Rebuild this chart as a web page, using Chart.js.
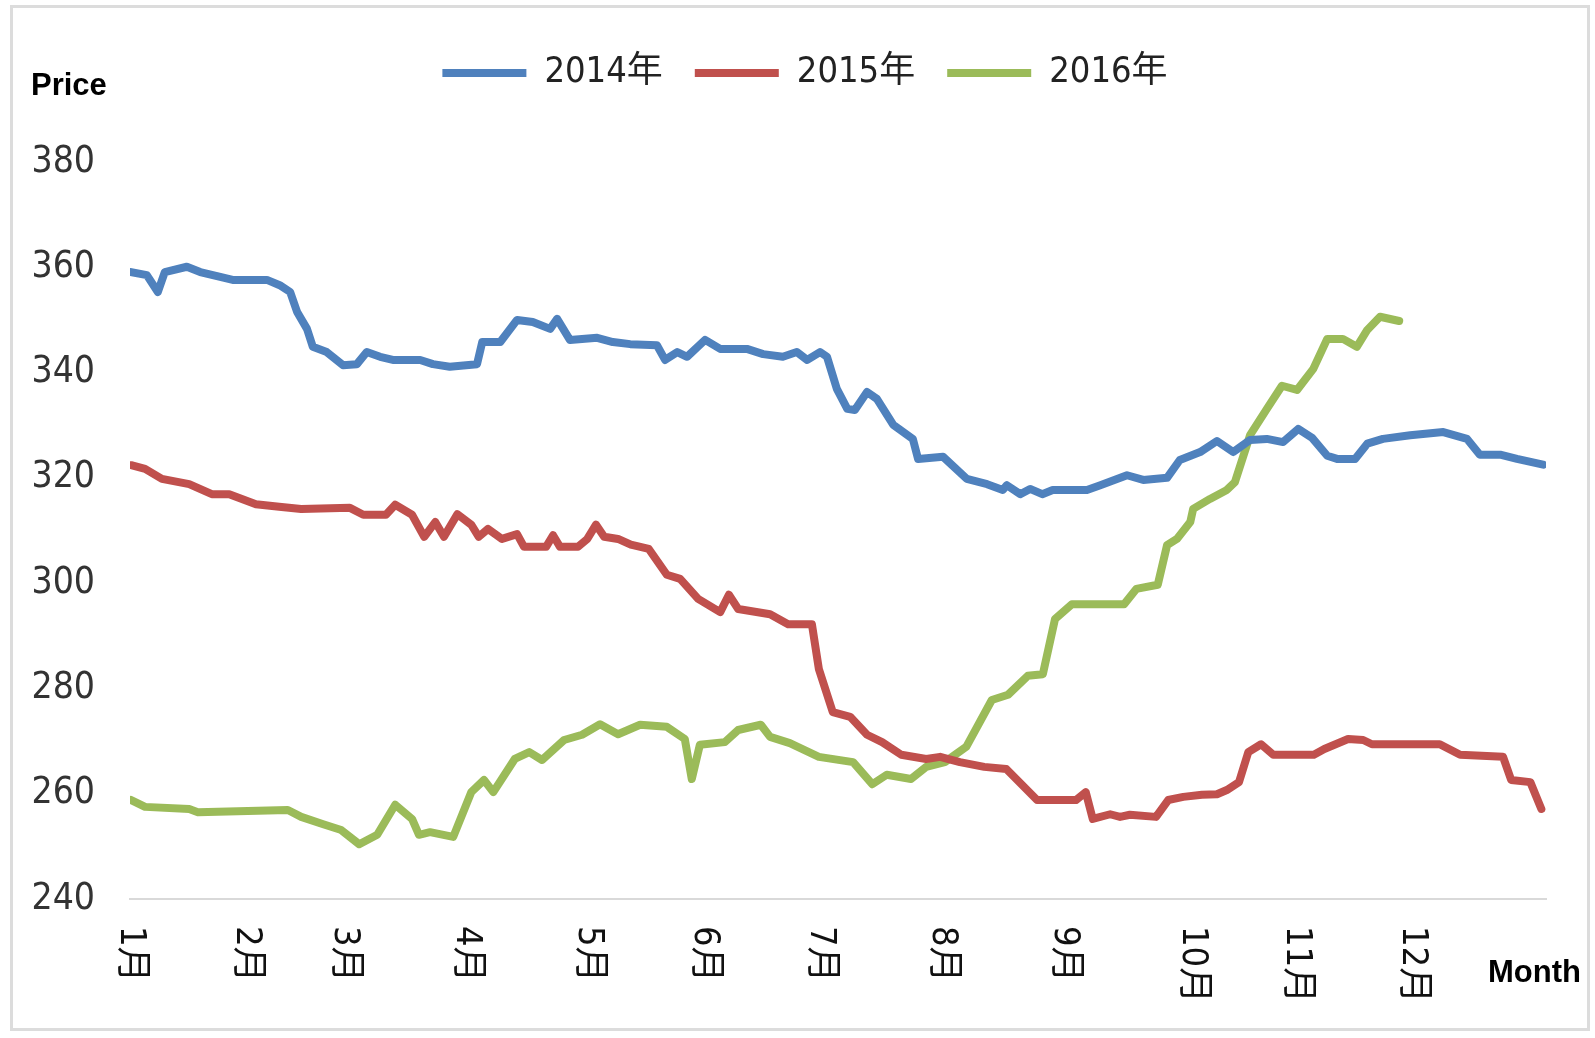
<!DOCTYPE html>
<html>
<head>
<meta charset="utf-8">
<title>Price by month 2014-2016</title>
<script src="https://cdn.jsdelivr.net/npm/chart.js@4.4.1/dist/chart.umd.min.js"></script>
<style>
    html, body { margin: 0; padding: 0; background: #fff; }
    #wrap { position: relative; width: 1595px; height: 1038px; }
    #frame {
        position: absolute; left: 10px; top: 5px; right: 5px; bottom: 7px;
        border: 3px solid #dcdcdc; pointer-events: none;
    }
    canvas { position: absolute; left: 0; top: 0; }
</style>
</head>
<body>
<div id="wrap">
    <canvas id="priceChart" width="1595" height="1038"></canvas>
    <div id="frame"></div>
</div>
<script>
// x = trading-day index within the year, y = price
const series2014 = [[0,359.1],[2.9,358.5],[4.8,355.3],[6,359.1],[9.8,360.1],[12.1,359.1],[15,358.3],[17.7,357.6],[23.6,357.6],[25.8,356.6],[27.6,355.3],[28.8,351.5],[30.5,348.3],[31.5,344.9],[33.9,343.9],[36.7,341.4],[39.1,341.6],[40.8,343.9],[43.1,343],[45.3,342.4],[50,342.4],[52.2,341.6],[55.1,341.1],[59.8,341.6],[60.7,345.8],[63.8,345.8],[66.7,350],[69.4,349.6],[72.4,348.3],[73.6,350.2],[75.8,346.2],[80.5,346.6],[83.2,345.8],[86.2,345.4],[90.8,345.2],[92.2,342.4],[94.3,343.9],[96,343],[99.1,346.2],[101.7,344.5],[106.3,344.5],[109.1,343.5],[112.5,343],[114.9,343.9],[116.7,342.4],[118.9,343.9],[120.1,343],[121.8,336.9],[123.6,333.1],[124.9,332.9],[127,336.3],[128.7,335],[131.5,330.1],[134.9,327.4],[135.8,323.6],[140.1,324],[144.2,319.8],[147.7,318.8],[150.4,317.7],[151.1,318.6],[153.4,316.9],[155.1,317.9],[157.2,316.9],[159,317.7],[164.9,317.7],[167.2,318.6],[171.8,320.5],[174.6,319.6],[178.7,320],[180.9,323.4],[184.4,324.9],[187.3,327],[190.1,324.9],[193,327.2],[195.9,327.4],[198.7,326.8],[201.3,329.3],[203.7,327.6],[206.3,324.2],[208,323.6],[211.1,323.6],[213.2,326.5],[215.9,327.4],[220.6,328.1],[226.3,328.7],[230.4,327.4],[232.6,324.4],[236.1,324.4],[239,323.6],[243.5,322.5]];

const series2015 = [[0.2,322.4],[2.6,321.7],[5.5,319.8],[10.2,318.8],[14.1,316.9],[17.1,316.9],[21.7,315],[25.7,314.5],[29.5,314.1],[37.9,314.3],[40.2,313],[44.1,313],[45.7,314.9],[48.6,313],[50.7,308.8],[52.6,311.6],[54.1,308.8],[56.4,313.1],[58.8,311.1],[60.1,308.8],[61.7,310.3],[64.1,308.4],[66.7,309.3],[67.9,306.9],[71.7,306.9],[72.9,309.1],[74.1,306.9],[77.2,306.9],[78.8,308.4],[80.3,311.1],[81.7,308.8],[84.1,308.4],[86.3,307.3],[89.4,306.5],[92.5,301.6],[94.8,300.8],[97.9,297],[101.7,294.5],[103.2,297.8],[104.8,295.1],[110.3,294.1],[113.4,292.2],[117.5,292.2],[118.7,283.7],[121.1,275.5],[124.1,274.6],[127,271.2],[129.6,269.8],[132.9,267.4],[137.2,266.6],[139.6,267],[143,266],[147.2,265.1],[151,264.7],[156.3,258.8],[163,258.8],[164.7,260.3],[165.9,255.2],[168.9,256.1],[170.6,255.6],[172.3,256],[176.8,255.6],[178.9,258.8],[181.5,259.4],[184.7,259.8],[187.3,259.9],[189,260.7],[191.1,262.2],[192.7,267.9],[194.9,269.4],[197,267.4],[204,267.4],[205.8,268.5],[209.9,270.4],[212.5,270.2],[214,269.4],[225.7,269.4],[229.2,267.4],[236.6,267],[238,262.6],[241.3,262.2],[243.2,257.1]];

const series2016 = [[0.2,258.8],[2.6,257.5],[10.2,257.1],[11.7,256.5],[27.2,256.9],[29.5,255.6],[33.3,254.2],[36.4,253.1],[39.5,250.4],[42.6,252.2],[45.7,257.9],[48.6,255.2],[49.8,252.2],[51.7,252.7],[55.7,251.8],[58.8,260.3],[61,262.6],[62.6,260.3],[66.3,266.6],[68.8,267.9],[71,266.4],[74.8,270.2],[77.9,271.2],[81,273.2],[84.1,271.3],[87.9,273.1],[92.5,272.7],[95.6,270.4],[96.8,262.8],[98.2,269.3],[102.5,269.8],[104.8,272.1],[108.7,273.1],[110.3,270.8],[113.7,269.6],[118.7,267],[124.6,266],[127.9,261.8],[130.4,263.6],[134.6,262.8],[137.2,265.1],[140.4,266],[144.1,268.9],[148.5,277.8],[151.3,278.8],[154.7,282.4],[157.3,282.7],[159.4,293.2],[162.3,296],[171.3,296],[173.4,298.9],[177.1,299.7],[178.7,307.2],[180.4,308.4],[182.7,311.6],[183.2,314.1],[186.1,316],[189,317.7],[190.4,319.2],[193,328.1],[195.9,333.1],[198.5,337.5],[201.1,336.7],[203.9,340.7],[206.3,346.4],[209,346.4],[211.4,344.9],[213.2,348.1],[215.4,350.6],[218.7,349.8]];

const seriesNames = ['2014年', '2015年', '2016年'];
const seriesColors = ['#4f81bd', '#c0504d', '#9bbb59'];

// first trading day of each month and its label
const monthTicks = [0, 20, 37, 58, 79, 99, 119, 140, 161, 183, 201, 221];
const monthLabels = ['1月', '2月', '3月', '4月', '5月', '6月', '7月', '8月', '9月', '10月', '11月', '12月'];

const yMin = 240;
const yMax = 380;
const yStep = 20;
const dayCount = 244;

const narrowFont = "'DejaVu Sans Condensed', 'Liberation Sans', 'Noto Sans CJK SC', sans-serif";

const toPoints = series => series.map(([x, y]) => ({ x, y }));

// axis captions and the rotated month labels
const chartTexts = {
    id: 'chartTexts',
    afterDraw(chart) {
        const { ctx } = chart;
        const xScale = chart.scales.x;
        ctx.save();
        ctx.fillStyle = '#111';
        ctx.font = "36px " + narrowFont;
        monthTicks.forEach((day, i) => {
            const px = xScale.getPixelForValue(day);
            ctx.save();
            ctx.translate(px, xScale.bottom + 27);
            ctx.rotate(Math.PI / 2);
            ctx.textAlign = 'left';
            ctx.textBaseline = 'middle';
            ctx.fillText(monthLabels[i], 0, 0);
            ctx.restore();
        });

        ctx.fillStyle = '#000';
        ctx.font = "bold 31px 'Liberation Sans', Arial, sans-serif";
        ctx.textBaseline = 'alphabetic';
        ctx.textAlign = 'left';
        ctx.fillText('Price', 31, 95);
        ctx.fillText('Month', 1488, 982);
        ctx.restore();
    }
};

const datasets = [series2014, series2015, series2016].map((series, i) => ({
    label: seriesNames[i],
    data: toPoints(series),
    borderColor: seriesColors[i],
    backgroundColor: seriesColors[i],
    borderWidth: 8,
    pointRadius: 0,
    tension: 0,
    borderJoinStyle: 'round',
    borderCapStyle: 'round',
    fill: false
}));

new Chart(document.getElementById('priceChart'), {
    type: 'line',
    data: { datasets },
    options: {
        responsive: false,
        animation: false,
        layout: { padding: { left: 15, right: 0, top: 23, bottom: 139 } },
        plugins: {
            legend: {
                position: 'top',
                labels: {
                    usePointStyle: true,
                    pointStyle: 'line',
                    pointStyleWidth: 84,
                    padding: 32,
                    color: '#222',
                    font: { family: narrowFont, size: 36 }
                }
            },
            // empty spacer between legend and plot area
            subtitle: {
                display: true,
                text: '',
                position: 'top',
                weight: 500,
                font: { size: 2, lineHeight: 1 },
                padding: { top: 59, bottom: 0 }
            },
            tooltip: { enabled: false }
        },
        scales: {
            x: {
                type: 'linear',
                min: 0,
                max: dayCount,
                grid: { display: false },
                border: { display: true, color: '#d9d9d9', width: 2 },
                ticks: { display: false },
                afterFit: scale => { scale.height = 0; }
            },
            y: {
                min: yMin,
                max: yMax,
                grid: { display: false },
                border: { display: false },
                ticks: {
                    stepSize: yStep,
                    padding: 27,
                    color: '#333',
                    font: { family: narrowFont, size: 37 }
                },
                afterFit: scale => { scale.width = 115; }
            },
            // blank right margin so the legend centres like the original
            yRight: {
                position: 'right',
                grid: { display: false },
                border: { display: false },
                ticks: { display: false },
                afterFit: scale => { scale.width = 49; }
            }
        }
    },
    plugins: [chartTexts]
});
</script>
</body>
</html>
